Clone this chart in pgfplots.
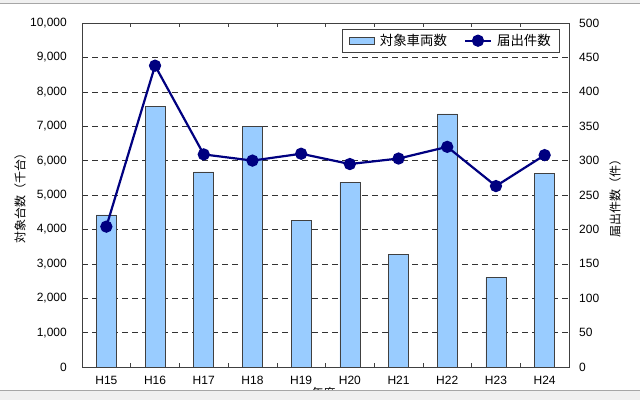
\documentclass[border=0pt]{standalone}
\usepackage{fontspec}
\setmainfont{Liberation Sans}
\newfontfamily\jp{Noto Sans CJK JP}
\usepackage{pgfplots}
\usepackage{pgfplotstable}
\pgfplotsset{compat=1.18}
\definecolor{barfill}{HTML}{99CCFF}
\definecolor{navyline}{HTML}{000080}
\definecolor{frame}{HTML}{404040}

% year index, target vehicles (thousand), number of reports
\pgfplotstableread{
x cars reports
0 4420 204
1 7570 438
2 5670 309
3 6990 300
4 4270 310
5 5370 295
6 3270 303
7 7360 320
8 2600 263
9 5630 308
}\datatable

\begin{document}
\begin{tikzpicture}[x=1pt,y=1pt]
\useasboundingbox (0,0) rectangle (640,400);
\fill[white] (0,0) rectangle (640,400);

\begin{axis}[
  at={(82pt,33pt)}, anchor=south west,
  scale only axis, width=487pt, height=344pt,
  xmin=-0.5, xmax=9.5, ymin=0, ymax=10000,
  xtick={0,...,9},
  xticklabels={H15,H16,H17,H18,H19,H20,H21,H22,H23,H24},
  minor xtick={0.5,1.5,...,8.5},
  ytick={0,1000,...,10000},
  major tick length=0pt, minor tick length=4pt, tick align=inside,
  minor tick style={frame, line width=0.6pt},
  ymajorgrids,
  grid style={black!80, line width=0.6pt, dash pattern=on 6pt off 4pt},
  axis line style={frame, line width=0.8pt},
  scaled y ticks=false,
  /pgf/number format/.cd, 1000 sep={,}, assume math mode=true, /pgfplots/.cd,
  ticklabel style={font=\fontsize{12}{14}\selectfont, inner sep=0pt},
  yticklabel style={anchor=east, xshift=-15pt},
  xticklabel style={anchor=north, yshift=-9pt},
  ylabel={\jp 対象台数（千台）},
  every axis y label/.style={at={(axis description cs:0,0.5)}, xshift=-62pt, rotate=90, anchor=center, font=\fontsize{12}{14}\selectfont},
  xlabel={\jp 年度},
  every axis x label/.style={at={(axis description cs:0.5,0)}, yshift=-26pt, xshift=-2pt, anchor=center, font=\fontsize{12}{14}\selectfont},
]
\addplot[ybar, bar width=20pt, fill=barfill, draw=frame, line width=0.6pt] table[x=x, y=cars] {\datatable};
\end{axis}

\begin{axis}[
  at={(82pt,33pt)}, anchor=south west,
  scale only axis, width=487pt, height=344pt,
  xmin=-0.5, xmax=9.5, ymin=0, ymax=500,
  axis x line=none, axis y line*=right,
  ytick={0,50,...,500},
  major tick length=0pt,
  axis line style={frame, line width=0.8pt},
  /pgf/number format/.cd, assume math mode=true, /pgfplots/.cd,
  ticklabel style={font=\fontsize{12}{14}\selectfont, inner sep=0pt},
  yticklabel style={anchor=west, xshift=10pt},
  ylabel={\jp 届出件数（件）},
  every axis y label/.style={at={(axis description cs:1,0.5)}, xshift=46pt, rotate=90, anchor=center, font=\fontsize{12}{14}\selectfont},
  legend columns=2,
  legend style={at={(1,1)}, anchor=north east, xshift=-9pt, yshift=-6pt,
    draw=frame, fill=white, line width=0.6pt,
    font=\jp\fontsize{13.4}{16}\selectfont, inner xsep=7pt, inner ysep=3pt,
    /tikz/every odd column/.append style={column sep=3pt},
    /tikz/every even column/.append style={column sep=15pt}},
]
\addlegendimage{legend image code/.code={\draw[fill=barfill, draw=frame, line width=0.6pt] (0pt,-3.5pt) rectangle (25pt,3.5pt);}}
\addlegendentry{対象車両数}
\addplot[navyline, line width=2.2pt, mark=*, mark size=5pt, mark options={fill=navyline, draw=navyline},
  legend image code/.code={\draw[navyline, line width=2.2pt] (0pt,0pt) -- (26pt,0pt); \fill[navyline] (13pt,0pt) circle (5pt);}]
  table[x=x, y=reports] {\datatable};
\addlegendentry{届出件数}
\end{axis}

% window frame remnants of the screenshot
\fill[black!6] (0,0) rectangle (640,10);
\draw[black!35, line width=0.8pt] (0,10) -- (640,10);
\fill[black!6] (0,397) rectangle (640,400);
\draw[black!35, line width=0.8pt] (0,397) -- (640,397);
\end{tikzpicture}
\end{document}
